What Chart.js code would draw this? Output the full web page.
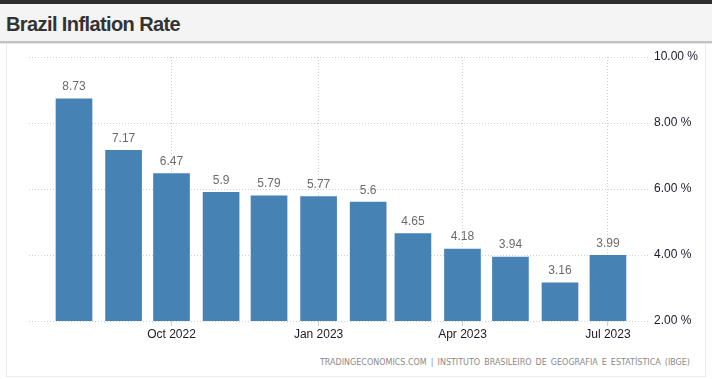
<!DOCTYPE html>
<html>
<head>
<meta charset="utf-8">
<script src="https://cdn.jsdelivr.net/npm/chart.js@4"></script>
<style>
  html, body { margin:0; padding:0; width:712px; height:379px; overflow:hidden; background:#fff; font-family:"Liberation Sans", Arial, sans-serif; }
  #topbar { position:absolute; left:0; top:0; width:712px; height:4px; background:#2e2e2e; }
  #header { position:absolute; left:0; top:4px; width:712px; height:37px; background:#f4f4f4; }
  #title { position:absolute; left:6px; top:9px; font-weight:bold; font-size:20px; color:#333; letter-spacing:-0.6px; }
  #hline { position:absolute; left:0; top:41px; width:712px; height:2px; background:#c4c4c4; }
  #hline2 { position:absolute; left:0; top:43px; width:712px; height:1px; background:#e2e2e2; }
  #panel { position:absolute; left:6px; top:44px; width:698px; height:332px; border:1px solid #ececec; border-top:none; }
  #footer { position:absolute; right:22px; top:358px; font-family:"DejaVu Sans", sans-serif; font-size:8px; color:#8a8a8a; letter-spacing:0; word-spacing:1.5px; white-space:nowrap; }
  #wrap { position:absolute; left:0; top:0; width:712px; height:379px; }
</style>
</head>
<body>
<div id="topbar"></div>
<div id="header"><div id="title">Brazil Inflation Rate</div></div>
<div id="hline"></div><div id="hline2"></div>
<div id="panel"></div>
<div id="footer">TRADINGECONOMICS.COM | INSTITUTO BRASILEIRO DE GEOGRAFIA E ESTATÍSTICA (IBGE)</div>
<div id="wrap"><canvas id="c" width="712" height="379"></canvas></div>
<script>
const categories = ['Aug 2022','Sep 2022','Oct 2022','Nov 2022','Dec 2022','Jan 2023','Feb 2023','Mar 2023','Apr 2023','May 2023','Jun 2023','Jul 2023'];
const inflation = [8.73, 7.17, 6.47, 5.9, 5.79, 5.77, 5.6, 4.65, 4.18, 3.94, 3.16, 3.99];
const valueLabels = ['8.73','7.17','6.47','5.9','5.79','5.77','5.6','4.65','4.18','3.94','3.16','3.99'];
const xTickLabels = ['Oct 2022','Jan 2023','Apr 2023','Jul 2023'];
const yTicks = [2, 4, 6, 8, 10];

// position of each month on a day-based axis (days since first category)
const MONTHS = ['Jan','Feb','Mar','Apr','May','Jun','Jul','Aug','Sep','Oct','Nov','Dec'];
function dayOf(label) {
  const [m, y] = label.split(' ');
  return Date.UTC(+y, MONTHS.indexOf(m), 1) / 86400000;
}
const day0 = dayOf(categories[0]);
const xDays = categories.map(c => dayOf(c) - day0);
const xTickDays = xTickLabels.map(l => dayOf(l) - day0);

const labelPlugin = {
  id: 'valueLabels',
  afterDatasetsDraw(chart) {
    const ctx = chart.ctx;
    const meta = chart.getDatasetMeta(0);
    ctx.save();
    ctx.font = '12px "Liberation Sans", Arial, sans-serif';
    ctx.fillStyle = '#6b6b6b';
    ctx.textAlign = 'center';
    ctx.textBaseline = 'middle';
    meta.data.forEach((bar, i) => {
      ctx.fillText(valueLabels[i], bar.x, bar.y - 12);
    });
    ctx.restore();
  }
};

new Chart(document.getElementById('c'), {
  type: 'bar',
  data: {
    datasets: [{
      data: inflation.map((v, i) => ({ x: xDays[i], y: v })),
      backgroundColor: '#4682b4',
      borderWidth: 0,
      barThickness: 36
    }]
  },
  options: {
    responsive: false,
    animation: false,
    devicePixelRatio: 1,
    layout: { padding: { left: 29, top: 57, right: 0, bottom: 0 } },
    plugins: { legend: { display: false }, tooltip: { enabled: false } },
    scales: {
      x: {
        type: 'linear',
        offset: false,
        min: -28.15,
        max: 360.3,
        afterBuildTicks(axis) { axis.ticks = xTickDays.map(v => ({ value: v })); },
        afterFit(axis) { axis.height = 58; },
        ticks: {
          callback: (v) => categories[xDays.indexOf(v)],
          color: '#1a1a2a',
          font: { family: '"Liberation Sans", Arial, sans-serif', size: 12 },
          padding: 1,
          maxRotation: 0,
          autoSkip: false
        },
        grid: { offset: false, color: '#cfcfcf', tickLength: 5, tickColor: '#cfcfcf', drawOnChartArea: true },
        border: { display: false, dash: [1, 2] }
      },
      y: {
        position: 'right',
        min: 2,
        max: 10,
        afterBuildTicks(axis) { axis.ticks = yTicks.map(v => ({ value: v })); },
        afterFit(axis) { axis.width = 62; },
        ticks: {
          callback: (v) => v.toFixed(2) + ' %',
          color: '#1a1a2a',
          font: { family: '"Liberation Sans", Arial, sans-serif', size: 12 },
          padding: 4
        },
        grid: { color: '#cfcfcf', drawTicks: false },
        border: { display: false, dash: [1, 2] }
      }
    }
  },
  plugins: [labelPlugin]
});
</script>
</body>
</html>
